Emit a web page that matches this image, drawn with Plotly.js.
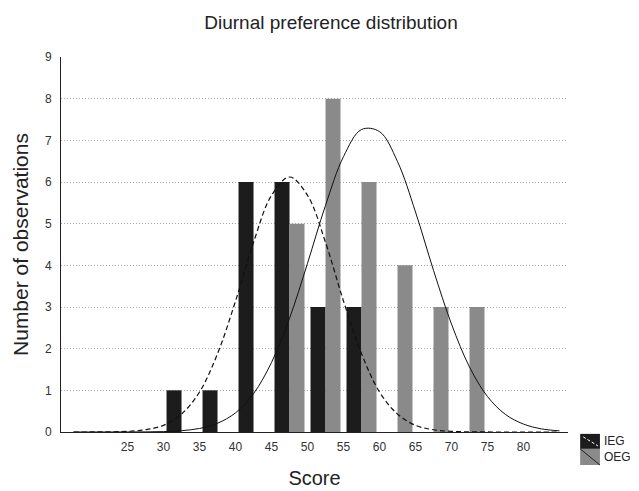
<!DOCTYPE html>
<html>
<head>
<meta charset="utf-8">
<script src="https://cdn.plot.ly/plotly-3.0.1.min.js"></script>
<style>html,body{margin:0;padding:0;background:#fff;}#chart{width:639px;height:491px;}</style>
</head>
<body>
<div id="chart"></div>
<script>
// Histogram bins (bin centres of 5-point score classes)
const binCenters = [32.5, 37.5, 42.5, 47.5, 52.5, 57.5, 62.5, 67.5, 72.5];
const iegCounts  = [1, 1, 6, 6, 3, 3, 0, 0, 0];
const oegCounts  = [0, 0, 0, 5, 8, 6, 4, 3, 3];

// Fitted normal curves
const curveX   = [17.5, 20, 22.5, 25, 27.5, 30, 32.5, 35, 37.5, 40, 42.5, 45, 47.5, 50, 52.5, 55, 57.5, 60, 62.5, 65, 67.5, 70, 72.5, 75, 77.5, 80, 82.5, 85];
const iegCurve = [0, 0.001, 0.004, 0.015, 0.054, 0.16, 0.43, 0.96, 1.88, 3.14, 4.55, 5.68, 6.12, 5.68, 4.55, 3.14, 1.88, 0.96, 0.43, 0.16, 0.054, 0.015, 0.004, 0.001, 0, 0, 0, 0];
const oegCurve = [0, 0, 0, 0.001, 0.003, 0.010, 0.032, 0.085, 0.21, 0.46, 0.92, 1.67, 2.73, 4.05, 5.44, 6.61, 7.26, 7.21, 6.49, 5.28, 3.88, 2.59, 1.56, 0.85, 0.42, 0.19, 0.075, 0.028];

const xTicks = [25, 30, 35, 40, 45, 50, 55, 60, 65, 70, 75, 80];
const yTicks = [0, 1, 2, 3, 4, 5, 6, 7, 8, 9];
const gridTicks = [1, 2, 3, 4, 5, 6, 7, 8];
const seriesNames = ['IEG', 'OEG'];

const black = '#1c1c1c', grey = '#8a8a8a';
const font = 'Liberation Sans, Arial, Helvetica, sans-serif';

const traces = [
  {type: 'bar', x: binCenters, y: iegCounts.map(v => v === 0 ? null : v), name: seriesNames[0],
   marker: {color: black}, showlegend: false, hoverinfo: 'x+y'},
  {type: 'bar', x: binCenters, y: oegCounts.map(v => v === 0 ? null : v), name: seriesNames[1],
   marker: {color: grey}, showlegend: false, hoverinfo: 'x+y'},
  {type: 'scatter', mode: 'lines', x: curveX, y: iegCurve, name: seriesNames[0] + ' fit',
   line: {color: '#111', width: 1.2, dash: '5px,3px', shape: 'spline'}, showlegend: false},
  {type: 'scatter', mode: 'lines', x: curveX, y: oegCurve, name: seriesNames[1] + ' fit',
   line: {color: '#111', width: 1, shape: 'spline'}, showlegend: false},
  // invisible trace to carry the grid-only axis
  {type: 'scatter', mode: 'markers', x: [50], y: [0], yaxis: 'y2', marker: {opacity: 0}, showlegend: false, hoverinfo: 'skip'}
];

// custom legend boxes placed to the right of the plot area
const lx0 = 1.024, lx1 = 1.063;
const ly = [[-0.005, -0.045], [-0.045, -0.088]];
const shapes = [
  {type: 'rect', xref: 'paper', yref: 'paper', x0: lx0, x1: lx1, y0: ly[0][1], y1: ly[0][0], fillcolor: black, line: {width: 0}},
  {type: 'line', xref: 'paper', yref: 'paper', x0: lx0 + 0.006, x1: lx1 - 0.004, y0: ly[0][0] - 0.008, y1: ly[0][1] + 0.008, line: {color: '#fff', width: 1, dash: '3px,2px'}},
  {type: 'rect', xref: 'paper', yref: 'paper', x0: lx0, x1: lx1, y0: ly[1][1], y1: ly[1][0], fillcolor: grey, line: {width: 0}},
  {type: 'line', xref: 'paper', yref: 'paper', x0: lx0, x1: lx1, y0: ly[1][0], y1: ly[1][1], line: {color: '#222', width: 1}}
];
const annotations = seriesNames.map((n, i) => ({
  xref: 'paper', yref: 'paper', x: lx1 + 0.004, y: (ly[i][0] + ly[i][1]) / 2,
  xanchor: 'left', yanchor: 'middle', text: n, showarrow: false,
  font: {family: font, size: 12, color: '#222'}
}));

const layout = {
  width: 639, height: 491,
  margin: {l: 61, r: 71, t: 57, b: 59},
  paper_bgcolor: '#fff', plot_bgcolor: '#fff',
  barmode: 'group', bargap: 0.167, bargroupgap: 0,
  title: {text: 'Diurnal preference distribution', font: {family: font, size: 19, color: '#222'},
          x: 0.518, xref: 'container', xanchor: 'center', y: 0.955, yref: 'container', yanchor: 'middle'},
  xaxis: {range: [15.76, 86.18], tickvals: xTicks, ticktext: xTicks.map(String),
          showgrid: false, zeroline: false, showline: true, linecolor: '#222', linewidth: 1,
          ticks: '', ticklabelstandoff: 4,
          tickfont: {family: font, size: 12, color: '#333'},
          title: {text: 'Score', font: {family: font, size: 20, color: '#222'}, standoff: 17}},
  yaxis: {range: [0, 9], tickvals: yTicks, ticktext: yTicks.map(String),
          showgrid: false, zeroline: false, showline: true, linecolor: '#222', linewidth: 1,
          ticks: '', ticklabelstandoff: 6,
          tickfont: {family: font, size: 12, color: '#333'},
          title: {text: 'Number of observations', font: {family: font, size: 21, color: '#222'}, standoff: 10}},
  yaxis2: {range: [0, 9], overlaying: 'y', tickvals: gridTicks, showticklabels: false,
           showgrid: true, gridcolor: '#a8a8a8', griddash: '1px,2px', gridwidth: 1,
           zeroline: false, showline: false, ticks: ''},
  shapes: shapes,
  annotations: annotations,
  showlegend: false
};

Plotly.newPlot('chart', traces, layout, {displayModeBar: false, staticPlot: true});
</script>
</body>
</html>
